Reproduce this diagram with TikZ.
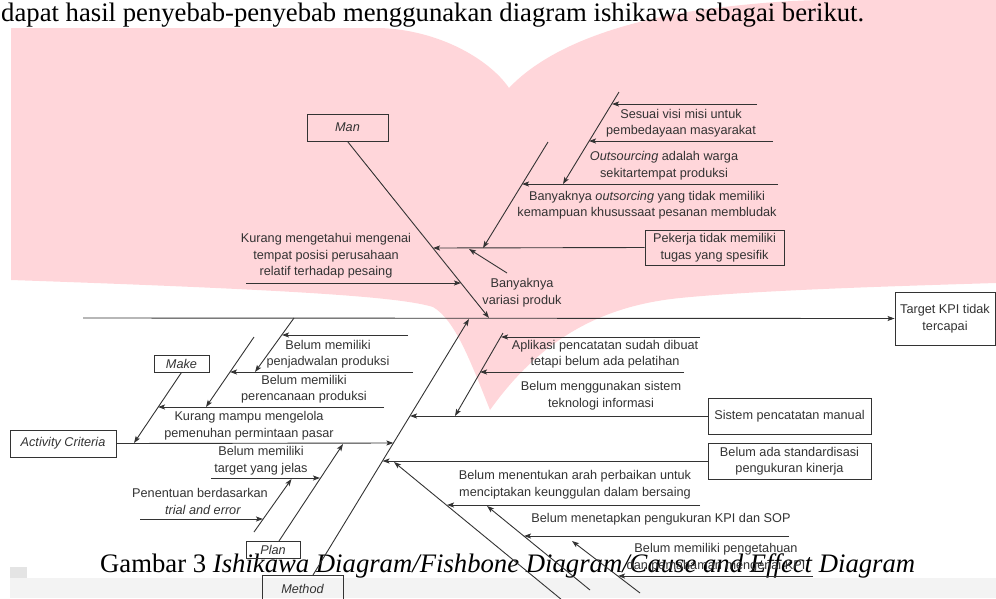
\documentclass[tikz,border=0pt]{standalone}
\usepackage{fontspec}
\setmainfont{Liberation Serif}
\newfontfamily\diafont{Liberation Sans}
\usetikzlibrary{arrows.meta}
\definecolor{wmpink}{RGB}{255,214,218}
\definecolor{bandgrey}{RGB}{243,243,243}
\definecolor{ink}{RGB}{51,51,51}

\begin{document}
\begin{tikzpicture}[x=1pt,y=-1pt,
  bone/.style={draw=ink, line width=0.9pt},
  arr/.style={bone, -{Stealth[length=7pt,width=5pt,inset=1.5pt]}},
  lbl/.style={font=\diafont\fontsize{12.7}{15}\selectfont, text=ink, inner sep=0pt, anchor=mid},
  box/.style={draw=ink, line width=0.9pt, font=\diafont\fontsize{12.7}{16.5}\selectfont,
              text=ink, inner sep=0pt, align=center},
  page/.style={font=\fontsize{26.7}{30}\selectfont, inner sep=0pt, anchor=base west},
]
\useasboundingbox (0,0) rectangle (996,598);

% watermark shape behind the page
\fill[wmpink] (11,28) -- (380,28)
  .. controls (440,30) and (490,60) .. (509,88)
  .. controls (540,55) and (600,25) .. (700,10)
  .. controls (760,2) and (800,0) .. (830,0)
  -- (996,0) -- (996,283)
  .. controls (900,286) and (760,290) .. (680,298)
  .. controls (600,306) and (540,340) .. (490,410)
  .. controls (470,360) and (455,320) .. (433,307)
  .. controls (400,297) and (300,290) .. (11,280) -- cycle;
\fill[bandgrey] (10,578) rectangle (996,598);
\fill[bandgrey!94!black] (10,567) rectangle (27,578);

% running text and caption
\node[page] (intro) at (1,21) {dapat hasil penyebab-penyebab menggunakan diagram ishikawa sebagai berikut.};
\node[page] (caption) at (100,572) {Gambar 3 \textit{Ishikawa Diagram/Fishbone Diagram/Cause and Effect Diagram}};

% boxes
\node[box, minimum width=81pt, minimum height=27pt] (man) at (347.5,127.5) {\itshape Man};
\node[box, minimum width=55pt, minimum height=17pt] (make) at (181.5,363.5) {\itshape Make};
\node[box, minimum width=106pt, minimum height=27pt] (act) at (63,443.5) {\itshape Activity Criteria};
\node[box, minimum width=54pt, minimum height=17pt] (plan) at (273,549.5) {\itshape Plan};
\node[box, minimum width=81pt, minimum height=27pt] (method) at (302.5,588.5) {\itshape Method};
\node[box, minimum width=139pt, minimum height=35pt] (pekerja) at (714.5,247.5) {Pekerja tidak memiliki\\tugas yang spesifik};
\node[box, minimum width=163pt, minimum height=36pt] (sistem) at (789.5,416) {Sistem pencatatan manual};
\node[box, minimum width=163pt, minimum height=36pt] (standar) at (789.5,461) {Belum ada standardisasi\\pengukuran kinerja};
\node[box, minimum width=100pt, minimum height=53pt] (target) at (945,318.5) {Target KPI tidak\\tercapai};

% spine
\coordinate (spineS) at (83,318);
\draw[arr] (spineS) -- (target.west);

% Man branch
\coordinate (manTip) at (489,318);
\draw[arr] (man.south) -- (manTip);
\coordinate (kurS) at (246,283); \coordinate (kurE) at (461,283);
\draw[arr] (kurS) -- (kurE);
\coordinate (pekE) at (433,248);
\draw[arr] (pekerja.west) -- (pekE);
\coordinate (b2top) at (548,142); \coordinate (b2tip) at (483,248);
\draw[arr] (b2top) -- (b2tip);
\coordinate (b1top) at (619,92); \coordinate (b1tip) at (563,184);
\draw[arr] (b1top) -- (b1tip);
\coordinate (sesS) at (757,104); \coordinate (sesE) at (612,104);
\draw[arr] (sesS) -- (sesE);
\coordinate (pemS) at (773,141); \coordinate (pemE) at (589,141);
\draw[arr] (pemS) -- (pemE);
\coordinate (outS) at (778,184); \coordinate (outE) at (522,184);
\draw[arr] (outS) -- (outE);
\coordinate (varS) at (507,273); \coordinate (varE) at (469,249);
\draw[arr] (varS) -- (varE);

\node[lbl] (kur1) at (326,240) {Kurang mengetahui mengenai};
\node[lbl] (kur2) at (326,257) {tempat posisi perusahaan};
\node[lbl] (kur3) at (326,273) {relatif terhadap pesaing};
\node[lbl] (var1) at (522,285) {Banyaknya};
\node[lbl] (var2) at (522,302) {variasi produk};
\node[lbl] (ses1) at (681,116) {Sesuai visi misi untuk};
\node[lbl] (ses2) at (681,132) {pembedayaan masyarakat};
\node[lbl] (out1) at (664,158) {\textit{Outsourcing} adalah warga};
\node[lbl] (out2) at (664,175) {sekitartempat produksi};
\node[lbl] (ban1) at (647,198) {Banyaknya \textit{outsorcing} yang tidak memiliki};
\node[lbl] (ban2) at (647,214) {kemampuan khusussaat pesanan membludak};

% Make branch
\coordinate (l1top) at (294,318); \coordinate (l1tip) at (255,372);
\draw[arr] (l1top) -- (l1tip);
\coordinate (bm1S) at (408,335); \coordinate (bm1E) at (282,335);
\draw[arr] (bm1S) -- (bm1E);
\coordinate (l2top) at (254,337); \coordinate (l2tip) at (206,407);
\draw[arr] (l2top) -- (l2tip);
\coordinate (jadS) at (413,372); \coordinate (jadE) at (230,372);
\draw[arr] (jadS) -- (jadE);
\coordinate (makeTip) at (134,443);
\draw[arr] (make.south) -- (makeTip);
\coordinate (renS) at (384,407); \coordinate (renE) at (158,407);
\draw[arr] (renS) -- (renE);

\node[lbl] (jad1) at (328,347) {Belum memiliki};
\node[lbl] (jad2) at (328,363) {penjadwalan produksi};
\node[lbl] (ren1) at (304,382) {Belum memiliki};
\node[lbl] (ren2) at (304,398) {perencanaan produksi};
\node[lbl] (kel1) at (249,418) {Kurang mampu mengelola};
\node[lbl] (kel2) at (249,435) {pemenuhan permintaan pasar};

% Activity Criteria and Plan branches
\coordinate (actE) at (393.4,443);
\draw[arr] (act.east) -- (actE);
\coordinate (planTop) at (279,541); \coordinate (planTip) at (343,444);
\draw[arr] (planTop) -- (planTip);
\coordinate (tgtS) at (211,478); \coordinate (tgtE) at (320,478);
\draw[arr] (tgtS) -- (tgtE);
\coordinate (trTop) at (254,532); \coordinate (trTip) at (291.5,479);
\draw[arr] (trTop) -- (trTip);
\coordinate (trS) at (140,519); \coordinate (trE) at (263,519);
\draw[arr] (trS) -- (trE);

\node[lbl] (tgt1) at (261,453) {Belum memiliki};
\node[lbl] (tgt2) at (261,470) {target yang jelas};
\node[lbl] (tr1) at (200,495) {Penentuan berdasarkan};
\node[lbl] (tr2) at (203,512) {\textit{trial and error}};

% Method branch
\coordinate (methTop) at (313,575); \coordinate (methTip) at (469,319);
\draw[arr] (methTop) -- (methTip);
\coordinate (apTop) at (503,333); \coordinate (apTip) at (455,416);
\draw[arr] (apTop) -- (apTip);
\coordinate (apS) at (700,337); \coordinate (apE) at (501,337);
\draw[arr] (apS) -- (apE);
\coordinate (latS) at (684,372); \coordinate (latE) at (480,372);
\draw[arr] (latS) -- (latE);
\coordinate (sisE) at (410,416);
\draw[arr] (sistem.west) -- (sisE);
\coordinate (stdE) at (382.5,461);
\draw[arr] (standar.west) -- (stdE);
\coordinate (aBot) at (562,600); \coordinate (aTip) at (394,462);
\draw[arr] (aBot) -- (aTip);
\coordinate (cipS) at (700,505); \coordinate (cipE) at (447,505);
\draw[arr] (cipS) -- (cipE);
\coordinate (bBot) at (590,590); \coordinate (bTip) at (487,506);
\draw[arr] (bBot) -- (bTip);
\coordinate (kpiS) at (789,536); \coordinate (kpiE) at (524,536);
\draw[arr] (kpiS) -- (kpiE);
\coordinate (cBot) at (640,593); \coordinate (cTip) at (572,541);
\draw[arr] (cBot) -- (cTip);
\coordinate (pgS) at (813,576); \coordinate (pgE) at (618,576);
\draw[arr] (pgS) -- (pgE);

\node[lbl] (ap1) at (605,347) {Aplikasi pencatatan sudah dibuat};
\node[lbl] (ap2) at (605,363) {tetapi belum ada pelatihan};
\node[lbl] (ti1) at (601,388) {Belum menggunakan sistem};
\node[lbl] (ti2) at (601,405) {teknologi informasi};
\node[lbl] (arah1) at (575,477) {Belum menentukan arah perbaikan untuk};
\node[lbl] (arah2) at (575,494) {menciptakan keunggulan dalam bersaing};
\node[lbl] (kpi) at (661,520) {Belum menetapkan pengukuran KPI dan SOP};
\node[lbl] (pg1) at (716,550) {Belum memiliki pengetahuan};
\node[lbl] (pg2) at (716,567) {dan pemahaman mengenai KPI};
\end{tikzpicture}
\end{document}
